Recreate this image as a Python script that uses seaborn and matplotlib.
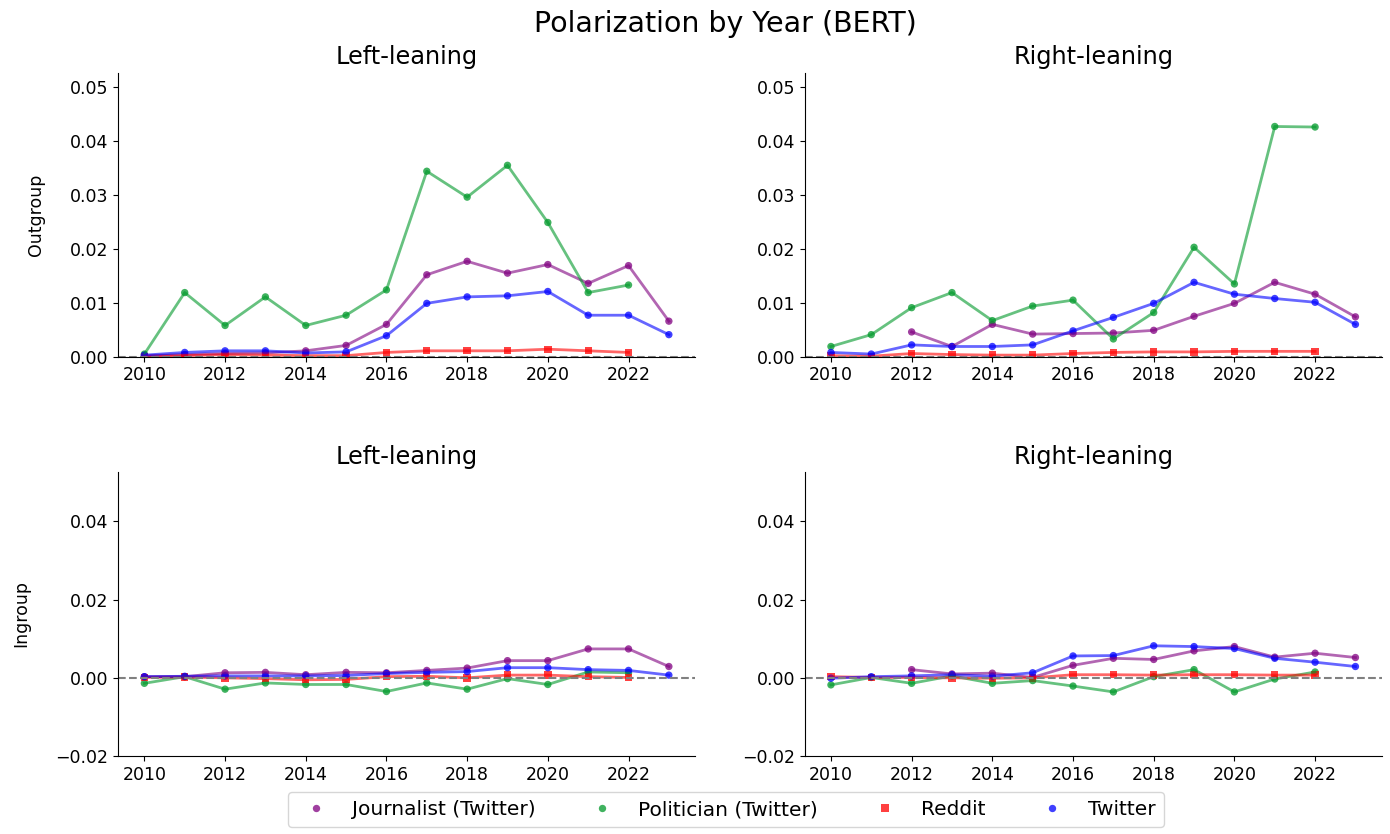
import numpy as np
import pandas as pd
import seaborn as sns
import matplotlib.pyplot as plt

years = list(range(2010, 2024))
sources = ['Journalist (Twitter)', 'Politician (Twitter)', 'Reddit', 'Twitter']
nan = np.nan

# outgroup polarization, left-leaning
left_out_journalist = [0.0002, 0.0004, 0.0006, 0.0007, 0.0011, 0.0021, 0.0060, 0.0152, 0.0177, 0.0155, 0.0171, 0.0136, 0.0169, 0.0066]
left_out_politician = [0.0005, 0.0119, 0.0058, 0.0111, 0.0058, 0.0077, 0.0124, 0.0344, 0.0296, 0.0355, 0.0249, 0.0119, 0.0133, nan]
left_out_reddit = [0.0001, 0.0002, 0.0004, 0.0003, 0.0002, 0.0002, 0.0008, 0.0011, 0.0011, 0.0011, 0.0014, 0.0011, 0.0008, nan]
left_out_twitter = [0.0003, 0.0008, 0.0011, 0.0011, 0.0007, 0.0009, 0.0039, 0.0099, 0.0111, 0.0113, 0.0121, 0.0077, 0.0077, 0.0041]

# outgroup polarization, right-leaning
right_out_journalist = [nan, nan, 0.0046, 0.0019, 0.0060, 0.0042, 0.0043, 0.0044, 0.0049, 0.0075, 0.0099, 0.0138, 0.0116, 0.0074]
right_out_politician = [0.0019, 0.0041, 0.0091, 0.0119, 0.0067, 0.0094, 0.0105, 0.0033, 0.0082, 0.0203, 0.0135, 0.0427, 0.0426, nan]
right_out_reddit = [0.0002, 0.0001, 0.0006, 0.0004, 0.0003, 0.0003, 0.0006, 0.0008, 0.0009, 0.0009, 0.0010, 0.0010, 0.0010, nan]
right_out_twitter = [0.0008, 0.0005, 0.0022, 0.0019, 0.0019, 0.0022, 0.0048, 0.0073, 0.0099, 0.0138, 0.0116, 0.0108, 0.0101, 0.0060]

# ingroup polarization, left-leaning
left_in_journalist = [0.0003, 0.0003, 0.0013, 0.0014, 0.0008, 0.0014, 0.0013, 0.0019, 0.0025, 0.0044, 0.0044, 0.0074, 0.0074, 0.0029]
left_in_politician = [-0.0014, 0.0003, -0.0029, -0.0013, -0.0017, -0.0017, -0.0035, -0.0013, -0.0029, -0.0002, -0.0017, 0.0015, 0.0013, nan]
left_in_reddit = [0.0001, 0.0002, 0.0000, -0.0002, -0.0005, -0.0004, 0.0003, 0.0004, 0.0000, 0.0007, 0.0007, 0.0003, 0.0001, nan]
left_in_twitter = [0.0003, 0.0004, 0.0005, 0.0005, 0.0005, 0.0006, 0.0011, 0.0014, 0.0016, 0.0026, 0.0026, 0.0021, 0.0019, 0.0007]

# ingroup polarization, right-leaning
right_in_journalist = [nan, nan, 0.0021, 0.0010, 0.0012, 0.0001, 0.0032, 0.0050, 0.0047, 0.0069, 0.0080, 0.0053, 0.0063, 0.0052]
right_in_politician = [-0.0018, 0.0001, -0.0014, 0.0005, -0.0014, -0.0007, -0.0021, -0.0036, 0.0003, 0.0021, -0.0036, -0.0003, 0.0015, nan]
right_in_reddit = [0.0003, 0.0001, 0.0001, 0.0000, -0.0001, 0.0000, 0.0008, 0.0008, 0.0007, 0.0008, 0.0008, 0.0007, 0.0007, nan]
right_in_twitter = [-0.0001, 0.0003, 0.0005, 0.0008, 0.0004, 0.0013, 0.0056, 0.0057, 0.0082, 0.0080, 0.0075, 0.0050, 0.0040, 0.0029]

panels = {
    ('Outgroup', 'Left-leaning'): [left_out_journalist, left_out_politician, left_out_reddit, left_out_twitter],
    ('Outgroup', 'Right-leaning'): [right_out_journalist, right_out_politician, right_out_reddit, right_out_twitter],
    ('Ingroup', 'Left-leaning'): [left_in_journalist, left_in_politician, left_in_reddit, left_in_twitter],
    ('Ingroup', 'Right-leaning'): [right_in_journalist, right_in_politician, right_in_reddit, right_in_twitter],
}

rows = []
for (group, lean), series in panels.items():
    for src, vals in zip(sources, series):
        for yr, v in zip(years, vals):
            rows.append({'group': group, 'leaning': lean, 'source': src, 'year': yr, 'value': v})
df = pd.DataFrame(rows).dropna()

palette = {'Journalist (Twitter)': 'purple', 'Politician (Twitter)': '#00992a',
           'Reddit': 'red', 'Twitter': 'blue'}
markers = {'Journalist (Twitter)': 'o', 'Politician (Twitter)': 'o',
           'Reddit': 's', 'Twitter': 'o'}

fig, axes = plt.subplots(2, 2, figsize=(13.9, 8.34))
plt.subplots_adjust(left=0.085, right=0.994, top=0.913, bottom=0.0935,
                    wspace=0.19, hspace=0.405)

handles, labels = None, None
for i, group in enumerate(['Outgroup', 'Ingroup']):
    for j, lean in enumerate(['Left-leaning', 'Right-leaning']):
        ax = axes[i, j]
        d = df[(df.group == group) & (df.leaning == lean)]
        sns.lineplot(data=d, x='year', y='value', hue='source', hue_order=sources,
                     palette=palette, alpha=0.6, linewidth=2, legend=False, ax=ax)
        sns.scatterplot(data=d, x='year', y='value', hue='source', style='source',
                        hue_order=sources, style_order=sources, markers=markers,
                        palette=palette, s=28, alpha=0.75, linewidth=0, ax=ax,
                        legend=(i == 0 and j == 0))
        if i == 0 and j == 0:
            handles, labels = ax.get_legend_handles_labels()
            ax.get_legend().remove()
        ax.axhline(0, color='gray', linestyle='--', linewidth=1.5)
        ax.set_title(lean, fontsize=17.3)
        ax.set_xticks(range(2010, 2023, 2))
        ax.set_xlabel('')
        ax.set_ylabel(group if j == 0 else '', fontsize=12.5, labelpad=18)
        ax.tick_params(labelsize=12.5)
        if i == 0:
            ax.set_ylim(0, 0.0527)
            ax.set_yticks([0, 0.01, 0.02, 0.03, 0.04, 0.05])
        else:
            ax.set_ylim(-0.02, 0.0527)
            ax.set_yticks([-0.02, 0, 0.02, 0.04])
        sns.despine(ax=ax)

fig.legend(handles, labels, loc='lower center', bbox_to_anchor=(0.522, -0.004),
           ncol=4, fontsize=14.5, columnspacing=2.3)
fig.suptitle('Polarization by Year (BERT)', fontsize=20.5, x=0.522, y=0.988)

plt.savefig('out.png', dpi=100)
